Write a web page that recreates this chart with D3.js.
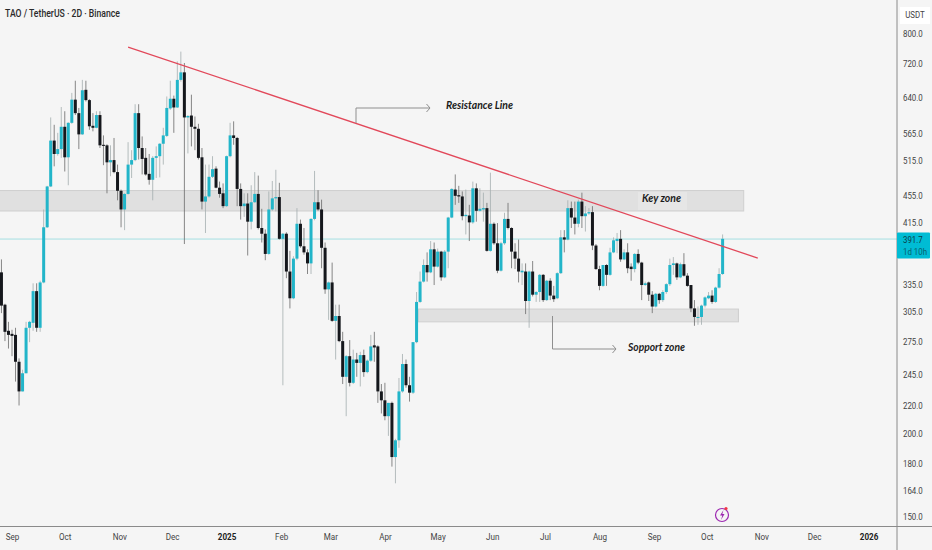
<!DOCTYPE html>
<html>
<head>
<meta charset="utf-8">
<script src="https://cdn.jsdelivr.net/npm/d3@7"></script>
<style>
  html, body { margin: 0; padding: 0; background: #f5f5f5; overflow: hidden; }
  svg { display: block; }
  text { font-family: Roboto, "Noto Sans", sans-serif; }
</style>
</head>
<body>
<svg id="chart"></svg>
<script>
// 2D candles, one every two days from firstCandle
const firstCandle = "2024-08-26";
const opens = [349,312,285,282,281,256,231,246,288,293,327,288,337,408,470,551,526,535,578,520,586,635,606,563,657,634,580,576,602,543,
  542,511,515,494,463,434,458,507,515,606,537,519,491,481,519,522,545,560,616,637,618,680,698,597,601,578,574,520,446,454,
  486,500,468,459,439,522,561,556,466,439,443,416,445,458,407,399,372,434,451,453,392,399,350,319,366,413,382,374,360,420,
  445,434,380,329,337,295,300,275,243,261,238,258,255,262,247,257,271,270,231,224,212,222,184,195,231,254,236,230,274,315,
  338,358,349,378,356,375,343,375,422,465,456,454,424,425,415,467,432,434,436,376,413,386,351,386,420,407,375,366,349,350,
  316,350,323,326,346,317,339,322,319,348,394,391,436,422,413,446,424,428,430,383,353,333,358,346,374,389,392,365,374,356,
  353,372,361,334,337,323,310,324,317,326,335,358,360,343,359,345,334,308,298,299,311,319,322,315,331,347];
const highs = [365,313,294,286,288,259,249,294,295,336,336,339,434,471,597,582,566,619,610,587,650,678,617,680,678,636,606,610,610,561,
  544,542,556,507,465,459,548,533,625,625,559,537,526,522,540,546,576,642,678,644,725,750,721,602,646,599,584,537,507,507,
  522,504,478,475,523,586,589,558,475,459,459,472,494,488,435,405,462,479,498,476,400,401,376,369,436,419,407,378,421,496,
  464,449,387,338,361,312,312,284,262,276,267,264,265,267,258,281,284,271,237,238,222,223,196,242,263,258,243,274,326,350,
  365,374,389,387,379,376,377,423,467,490,471,462,465,441,478,475,467,460,444,493,415,414,388,429,444,408,386,391,360,360,
  351,363,327,347,347,340,342,333,349,404,404,448,446,446,449,460,439,436,439,385,357,358,359,380,394,400,404,378,386,360,
  373,378,362,338,338,327,325,325,328,336,366,368,361,361,373,348,334,317,310,312,321,326,328,332,354,398];
const lows = [303,275,268,261,239,220,231,246,274,285,284,284,336,407,469,504,523,519,495,472,584,602,535,562,631,572,569,575,537,506,
  459,487,492,448,408,404,457,484,513,516,490,488,473,448,484,485,507,558,613,566,617,676,385,527,540,533,516,434,400,452,
  484,467,452,436,438,520,543,439,419,423,370,405,444,405,387,364,371,432,431,391,236,342,308,318,364,380,371,347,347,418,
  432,354,324,296,294,258,274,237,212,235,237,243,235,243,246,256,256,222,214,209,198,178,168,190,230,234,223,229,273,314,
  337,338,348,334,355,339,342,354,421,441,444,418,398,389,413,416,431,416,375,375,384,348,350,384,405,354,353,337,334,302,
  288,321,315,315,315,316,317,315,318,347,374,390,407,398,408,407,402,426,377,352,328,332,333,345,373,373,362,364,348,339,
  349,359,317,333,316,303,309,313,315,324,333,346,340,342,344,332,304,290,291,291,309,318,313,314,330,346];
const closes = [311,284,281,280,256,231,246,288,294,327,288,337,408,470,551,526,535,578,520,586,635,606,563,656,634,579,576,602,542,541,
  511,515,494,463,434,458,507,515,606,537,517,490,481,519,522,545,561,617,637,618,680,698,597,600,578,574,519,446,454,486,
  499,468,458,439,522,561,556,466,439,443,416,445,458,407,399,372,434,451,453,392,399,350,319,366,413,382,374,360,420,445,
  434,380,329,337,295,300,275,243,261,238,258,255,262,247,257,270,269,231,224,212,222,184,195,231,254,236,230,274,315,338,
  358,349,378,356,375,343,375,422,466,455,454,424,426,415,467,432,435,436,376,413,386,351,386,420,407,375,366,350,351,316,
  350,323,326,346,317,339,322,318,348,394,391,436,422,413,446,424,428,430,383,353,333,358,346,374,390,392,365,374,354,353,
  372,361,334,336,323,310,324,317,326,335,358,360,343,359,345,333,308,299,299,311,320,322,315,331,347,392];

const priceTicks = [800, 720, 640, 565, 515, 455, 415, 335, 305, 275, 245, 220, 200, 180, 164, 150];
const monthTicks = ["2024-09-01","2024-10-01","2024-11-01","2024-12-01","2025-01-01","2025-02-01","2025-03-01","2025-04-01","2025-05-01",
  "2025-06-01","2025-07-01","2025-08-01","2025-09-01","2025-10-01","2025-11-01","2025-12-01","2026-01-01"];
const monthLabels = ["Sep","Oct","Nov","Dec","2025","Feb","Mar","Apr","May","Jun","Jul","Aug","Sep","Oct","Nov","Dec","2026"];

const lastPrice = 391.7;
const keyZone = [463.4, 431.7];
const supportZone = [307.3, 294];
const resistance = [["2024-11-06", 762], ["2025-10-30", 366.7]];

const width = 932, height = 550;
const plotRight = 897, plotBottom = 526.5;
const parseDay = d3.utcParse("%Y-%m-%d");

const svg = d3.select("#chart").attr("width", width).attr("height", height);

const x = d3.scaleUtc()
    .domain([parseDay("2024-09-01"), parseDay("2026-01-01")])
    .range([12, 868.6]);
const y = d3.scaleLog()
    .domain([150, 800])
    .range([516, 33]);

const candleDates = opens.map((d, i) => d3.utcDay.offset(parseDay(firstCandle), i * 2));
const candles = opens.map((o, i) => ({date: candleDates[i], o: o, h: highs[i], l: lows[i], c: closes[i]}));

// the labels in the picture are narrower than any installed font
function condense(sel, k) {
  sel.each(function() {
    d3.select(this)
        .attr("textLength", this.getComputedTextLength() * k)
        .attr("lengthAdjust", "spacingAndGlyphs");
  });
}

// zones
svg.append("rect")
    .attr("x", -2)
    .attr("y", y(keyZone[0]))
    .attr("width", x(parseDay("2025-10-22")) + 2)
    .attr("height", y(keyZone[1]) - y(keyZone[0]))
    .attr("fill", "#e0e0e0")
    .attr("stroke", "#cfcfcf");
svg.append("rect")
    .attr("x", x(parseDay("2025-04-20")))
    .attr("y", y(supportZone[0]))
    .attr("width", x(parseDay("2025-10-19")) - x(parseDay("2025-04-20")))
    .attr("height", y(supportZone[1]) - y(supportZone[0]))
    .attr("fill", "#e0e0e0")
    .attr("stroke", "#cfcfcf");

// last price line
svg.append("line")
    .attr("x1", 0).attr("x2", plotRight)
    .attr("y1", y(lastPrice)).attr("y2", y(lastPrice))
    .attr("stroke", "#a5dfe2");

// candles
const candle = svg.append("g").selectAll("g").data(candles).join("g");
candle.append("line")
    .attr("x1", d => x(d.date)).attr("x2", d => x(d.date))
    .attr("y1", d => y(d.h)).attr("y2", d => y(d.l))
    .attr("stroke", d => d.c >= d.o ? "#a3adae" : "#6a6a6a")
    .attr("stroke-width", 0.8);
candle.append("rect")
    .attr("x", d => x(d.date) - 1.5)
    .attr("width", 3)
    .attr("y", d => y(Math.max(d.o, d.c)))
    .attr("height", d => Math.max(1, Math.abs(y(d.o) - y(d.c))))
    .attr("fill", d => d.c >= d.o ? "#22b5c9" : "#15171c");

// resistance line
svg.append("line")
    .attr("x1", x(parseDay(resistance[0][0]))).attr("y1", y(resistance[0][1]))
    .attr("x2", x(parseDay(resistance[1][0]))).attr("y2", y(resistance[1][1]))
    .attr("stroke", "#e2485a")
    .attr("stroke-width", 1.3);

// annotations
function elbow(points, tip) {
  svg.append("path")
      .attr("d", d3.line()(points))
      .attr("fill", "none")
      .attr("stroke", "#8f8f8f")
      .attr("stroke-width", 1);
  svg.append("path")
      .attr("d", d3.line()([[tip[0] - 3.5, tip[1] - 4], tip, [tip[0] - 3.5, tip[1] + 4]]))
      .attr("fill", "none")
      .attr("stroke", "#8f8f8f")
      .attr("stroke-width", 1);
}
elbow([[356, 123], [356, 108], [430, 108]], [430, 108]);
elbow([[552.5, 316], [552.5, 349], [616, 349]], [616, 349]);

const notes = [["Resistance Line", 446, 109, 67], ["Key zone", 642, 202, 39], ["Sopport zone", 628, 351, 57]];
svg.append("rect").attr("x", 638).attr("y", 192).attr("width", 49).attr("height", 18).attr("fill", "#e6e6e6");
svg.selectAll(".note").data(notes).join("text")
    .attr("class", "note")
    .attr("x", d => d[1])
    .attr("y", d => d[2])
    .attr("textLength", d => d[3])
    .attr("lengthAdjust", "spacingAndGlyphs")
    .attr("font-size", 12)
    .attr("font-style", "italic")
    .attr("font-weight", 700)
    .attr("fill", "#1c1c1c")
    .style("font-family", "Lato")
    .text(d => d[0]);

// title
svg.append("text")
    .attr("x", 5).attr("y", 17)
    .attr("font-size", 10)
    .attr("font-weight", 500)
    .attr("fill", "#2a2a2a")
    .attr("textLength", 115)
    .attr("lengthAdjust", "spacingAndGlyphs")
    .text("TAO / TetherUS · 2D · Binance");

// price axis
svg.append("line").attr("x1", plotRight).attr("x2", plotRight).attr("y1", 0).attr("y2", height).attr("stroke", "#8a8a8a");
svg.append("line").attr("x1", 0).attr("x2", width).attr("y1", plotBottom).attr("y2", plotBottom).attr("stroke", "#8a8a8a");

const yAxis = svg.append("g")
    .attr("transform", "translate(" + plotRight + ",0)")
    .call(d3.axisRight(y).tickValues(priceTicks).tickSize(0).tickPadding(6).tickFormat(d3.format(".1f")));
yAxis.select(".domain").remove();
yAxis.selectAll("text").attr("font-size", 9.5).attr("fill", "#444").style("font-family", "Roboto").call(condense, 0.83);

const xAxis = svg.append("g")
    .attr("transform", "translate(0," + plotBottom + ")")
    .call(d3.axisBottom(x).tickValues(monthTicks.map(parseDay)).tickSize(0).tickPadding(7)
      .tickFormat((d, i) => monthLabels[i]));
xAxis.select(".domain").remove();
xAxis.selectAll("text")
    .attr("font-size", 9.5)
    .attr("fill", d => d.getUTCMonth() === 0 ? "#222" : "#444")
    .attr("font-weight", d => d.getUTCMonth() === 0 ? 700 : 400)
    .style("font-family", "Roboto")
    .call(condense, 0.85);

// USDT box and last price tag
svg.append("rect").attr("x", 900).attr("y", 7).attr("width", 30).attr("height", 17).attr("fill", "#fff");
svg.append("text").attr("x", 915).attr("y", 18).attr("text-anchor", "middle").attr("font-size", 9.5).attr("fill", "#444").text("USDT").call(condense, 0.83);

svg.append("rect").attr("x", plotRight).attr("y", 232.5).attr("width", 33).attr("height", 26).attr("fill", "#00bcd4").attr("rx", 1);
svg.append("text").attr("x", 903).attr("y", 243).attr("font-size", 9.5).attr("fill", "#0b3c46").text(d3.format(".1f")(lastPrice)).call(condense, 0.83);
svg.append("text").attr("x", 903).attr("y", 255).attr("font-size", 9.5).attr("fill", "#07606f").text("1d 10h").call(condense, 0.83);

// bolt badge
svg.append("circle").attr("cx", 722).attr("cy", 515).attr("r", 6.5).attr("fill", "#f5f5f5").attr("stroke", "#9c27b0").attr("stroke-width", 1.2);
svg.append("path").attr("d", "M723.5,510 L720,515.5 L722.3,515.5 L721,520 L724.5,514 L722.3,514 Z").attr("fill", "#9c27b0");
svg.append("circle").attr("cx", 726).attr("cy", 508.5).attr("r", 1.6).attr("fill", "#f23645");
</script>
</body>
</html>
